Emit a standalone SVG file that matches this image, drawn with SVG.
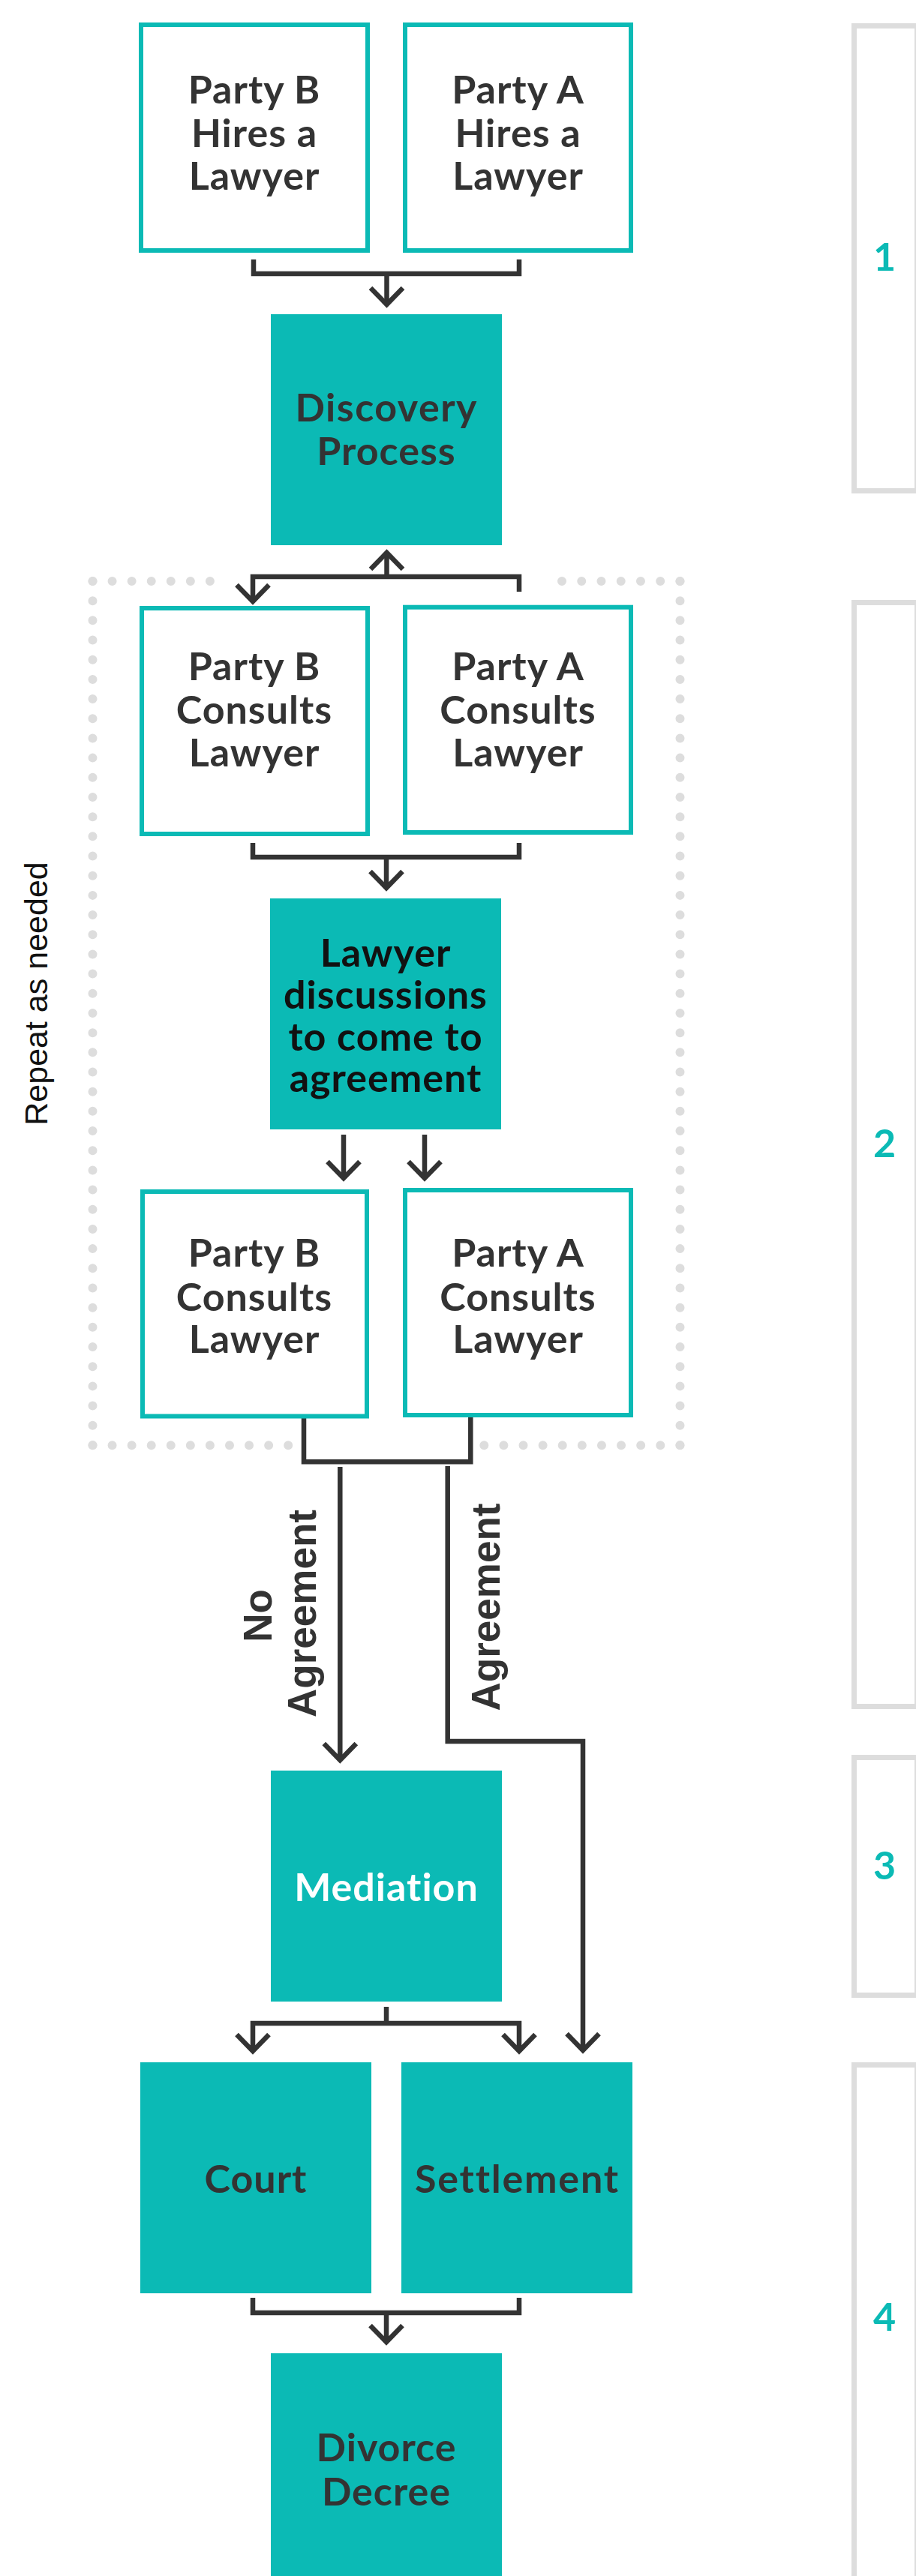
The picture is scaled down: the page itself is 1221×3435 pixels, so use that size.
<svg xmlns="http://www.w3.org/2000/svg" width="1221" height="3435" viewBox="0 0 1221 3435">
<style>
.bg{fill:#ffffff}
.out{fill:#ffffff;stroke:#0bbab5;stroke-width:6}
.fill{fill:#0bbab5}
.t{font-family:"Lato","Liberation Sans",sans-serif;font-weight:bold;font-size:52px;fill:#333333;text-anchor:middle;letter-spacing:1px}
.tw{fill:#ffffff}
.tb{fill:#111111}
.c{fill:none;stroke:#333333;stroke-width:6.5}
.dot{fill:none;stroke:#dddddd;stroke-width:12;stroke-linecap:round}
.bar{fill:none;stroke:#dddddd;stroke-width:7}
.num{font-family:"Lato","Liberation Sans",sans-serif;font-weight:bold;font-size:52px;fill:#0bbab5;text-anchor:middle}
.lbl{font-family:"Liberation Sans",Arial,sans-serif;font-weight:bold;font-size:53px;fill:#333333;text-anchor:middle}
.rep{font-family:"Liberation Sans",Arial,sans-serif;font-size:43px;fill:#111111;text-anchor:middle}
</style>
<defs>
<marker id="arr" markerUnits="userSpaceOnUse" viewBox="-30 -30 60 60" markerWidth="60" markerHeight="60" refX="0" refY="0" orient="auto">
<path d="M-22,-21.5 L0,0 L-22,21.5" fill="none" stroke="#333333" stroke-width="6.5"/>
</marker>
</defs>
<rect class="bg" x="0" y="0" width="1221" height="3435"/>

<g id="side-bars">
<g id="stage1"><rect class="bar" x="1138.5" y="34.5" width="84" height="620"/><text class="num" x="1179" y="361">1</text></g>
<g id="stage2"><rect class="bar" x="1138.5" y="803.5" width="84" height="1472"/><text class="num" x="1179" y="1543">2</text></g>
<g id="stage3"><rect class="bar" x="1138.5" y="2343.5" width="84" height="317"/><text class="num" x="1179" y="2506">3</text></g>
<g id="stage4"><rect class="bar" x="1138.5" y="2753.5" width="84" height="720"/><text class="num" x="1179" y="3108">4</text></g>
</g>

<g id="repeat-frame">
<line class="dot" x1="123.5" y1="775" x2="280" y2="775" stroke-dasharray="0 26.07"/>
<line class="dot" x1="749" y1="775" x2="906.5" y2="775" stroke-dasharray="0 26.24"/>
<line class="dot" x1="123.5" y1="1927.3" x2="384.3" y2="1927.3" stroke-dasharray="0 26.07"/>
<line class="dot" x1="645.3" y1="1927.3" x2="906.5" y2="1927.3" stroke-dasharray="0 26.11"/>
<line class="dot" x1="123.5" y1="775" x2="123.5" y2="1927.3" stroke-dasharray="0 26.18"/>
<line class="dot" x1="906.5" y1="775" x2="906.5" y2="1927.3" stroke-dasharray="0 26.18"/>
<text class="rep" transform="translate(63,1325) rotate(-90)">Repeat as needed</text>
</g>

<g id="connectors">
<path class="c" d="M338 346 V365 H692 V346"/>
<path class="c" d="M515.5 365 V406" marker-end="url(#arr)"/>
<path class="c" d="M515.5 772 V737" marker-end="url(#arr)"/>
<path class="c" d="M692 789 V769 H337 V802" marker-end="url(#arr)"/>
<path class="c" d="M337 1124 V1143 H692 V1124"/>
<path class="c" d="M515 1143 V1184" marker-end="url(#arr)"/>
<path class="c" d="M458 1513 V1571" marker-end="url(#arr)"/>
<path class="c" d="M566 1513 V1571" marker-end="url(#arr)"/>
<path class="c" d="M405 1891 V1949.3 H627.3 V1890"/>
<path class="c" d="M453.3 1956 V2347" marker-end="url(#arr)"/>
<path class="c" d="M596.7 1955 V2322 H777 V2734" marker-end="url(#arr)"/>
<path class="c" d="M515 2676 V2698"/>
<path class="c" d="M515 2698 H337 V2735" marker-end="url(#arr)"/>
<path class="c" d="M515 2698 H692 V2735" marker-end="url(#arr)"/>
<path class="c" d="M337 3064 V3084 H692 V3064"/>
<path class="c" d="M515 3084 V3123" marker-end="url(#arr)"/>
<text class="lbl" transform="translate(362,2154.5) rotate(-90)">No</text>
<text class="lbl" transform="translate(420.6,2151.5) rotate(-90)">Agreement</text>
<text class="lbl" transform="translate(666,2143) rotate(-90)">Agreement</text>
</g>

<g id="party-b-hires"><rect class="out" x="188" y="33" width="302" height="301"/>
<text class="t" x="339" y="138">Party B</text><text class="t" x="339" y="196">Hires a</text><text class="t" x="339" y="253">Lawyer</text></g>
<g id="party-a-hires"><rect class="out" x="540" y="33" width="301" height="301"/>
<text class="t" x="690.5" y="138">Party A</text><text class="t" x="690.5" y="196">Hires a</text><text class="t" x="690.5" y="253">Lawyer</text></g>
<g id="discovery"><rect class="fill" x="361" y="419" width="308" height="308"/>
<text class="t" x="515" y="562" textLength="243" lengthAdjust="spacing">Discovery</text><text class="t" x="515" y="620">Process</text></g>
<g id="party-b-consults-1"><rect class="out" x="189" y="811" width="301" height="301"/>
<text class="t" x="339" y="907">Party B</text><text class="t" x="339" y="965">Consults</text><text class="t" x="339" y="1022">Lawyer</text></g>
<g id="party-a-consults-1"><rect class="out" x="540" y="809.7" width="301" height="300.3"/>
<text class="t" x="690.5" y="907">Party A</text><text class="t" x="690.5" y="965">Consults</text><text class="t" x="690.5" y="1022">Lawyer</text></g>
<g id="lawyer-discussions"><rect class="fill" x="360" y="1198" width="308" height="308"/>
<text class="t tb" x="514" y="1288.5">Lawyer</text><text class="t tb" x="514" y="1344.5">discussions</text><text class="t tb" x="514" y="1400.5">to come to</text><text class="t tb" x="514" y="1456">agreement</text></g>
<g id="party-b-consults-2"><rect class="out" x="190" y="1589" width="299" height="299.5"/>
<text class="t" x="339" y="1689">Party B</text><text class="t" x="339" y="1748">Consults</text><text class="t" x="339" y="1804">Lawyer</text></g>
<g id="party-a-consults-2"><rect class="out" x="540" y="1587" width="301" height="300"/>
<text class="t" x="690.5" y="1689">Party A</text><text class="t" x="690.5" y="1748">Consults</text><text class="t" x="690.5" y="1804">Lawyer</text></g>
<g id="mediation"><rect class="fill" x="361" y="2361" width="308" height="308"/>
<text class="t tw" x="515" y="2535">Mediation</text></g>
<g id="court"><rect class="fill" x="187" y="2750" width="308" height="308"/>
<text class="t" x="341" y="2924">Court</text></g>
<g id="settlement"><rect class="fill" x="535" y="2750" width="308" height="308"/>
<text class="t" x="689" y="2924" textLength="272" lengthAdjust="spacing">Settlement</text></g>
<g id="divorce-decree"><rect class="fill" x="361" y="3138" width="308" height="308"/>
<text class="t" x="515" y="3282">Divorce</text><text class="t" x="515" y="3341">Decree</text></g>
</svg>
